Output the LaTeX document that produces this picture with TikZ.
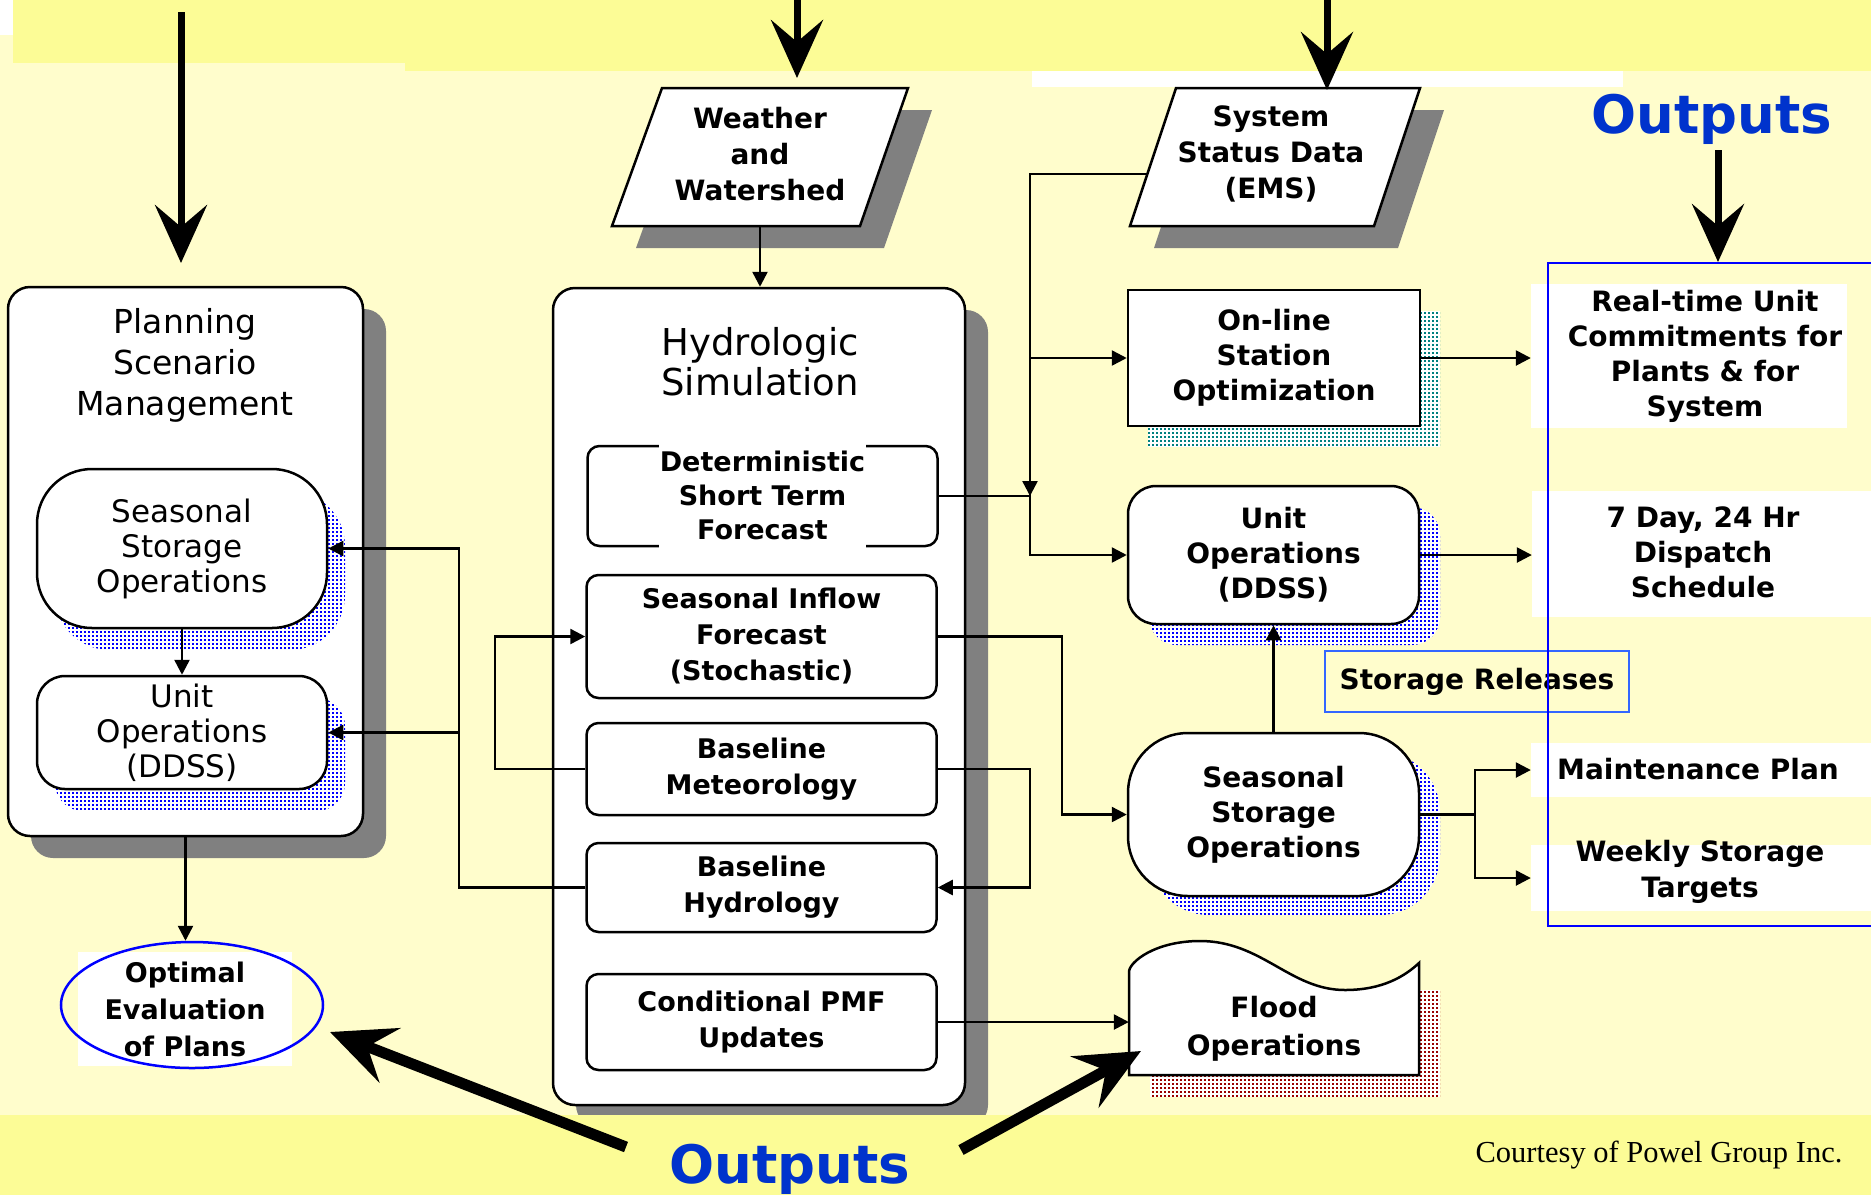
\documentclass[tikz,border=0pt]{standalone}
\usepackage{fontspec}
\setmainfont{DejaVu Sans}
\newfontfamily\courtesyfont{Liberation Serif}
\usetikzlibrary{arrows.meta,shapes.geometric,shadows,patterns}
\pgfdeclarepatternformonly{sdots}{\pgfqpoint{0pt}{0pt}}{\pgfqpoint{3.5pt}{3.5pt}}{\pgfqpoint{3.5pt}{3.5pt}}{\pgfpathrectangle{\pgfqpoint{0pt}{0pt}}{\pgfqpoint{2.2pt}{2.2pt}}\pgfusepath{fill}}
\definecolor{bgyellow}{RGB}{255,253,204}
\definecolor{bandyellow}{RGB}{252,252,150}
\definecolor{shgray}{RGB}{128,128,128}
\definecolor{outblue}{RGB}{0,51,204}
\definecolor{rblue}{RGB}{0,0,255}
\definecolor{lblue}{RGB}{51,102,255}
\definecolor{dotteal}{RGB}{0,128,128}
\definecolor{dotred}{RGB}{153,0,0}
\begin{document}
\begin{tikzpicture}[x=1pt,y=-1pt,
  line/.style={line width=2.5pt},
  conn/.style={line width=2.5pt,-{Triangle[length=15pt,width=15pt]}},
  big/.style={line width=7pt,-{Stealth[length=58pt,width=52pt,inset=22pt]}},
  bigger/.style={line width=11pt,-{Stealth[length=64pt,width=58pt,inset=24pt]}},
  gsh/.style={general shadow={shadow xshift=23pt,shadow yshift=-22pt,fill=shgray}},
  dsh/.style n args={3}{general shadow={shadow xshift=#2,shadow yshift=#3,fill=white},
     general shadow={shadow xshift=#2,shadow yshift=#3,pattern=sdots,pattern color=#1}},
  cont/.style={draw,line width=2.5pt,fill=white,rounded corners=22pt,gsh},
  ttl/.style={font=\fontsize{33}{41}\selectfont,align=center,inner sep=0pt},
  htl/.style={font=\fontsize{37}{40}\selectfont,align=center,inner sep=0pt},
  lbox/.style={draw,line width=2.5pt,fill=white,align=center,inner sep=0pt,
     font=\fontsize{31}{35}\selectfont,minimum width=290pt},
  ibox/.style={draw,line width=2.5pt,fill=white,rounded corners=12pt,minimum width=350pt,
     align=center,inner sep=0pt,font=\fontsize{27}{36}\selectfont\bfseries},
  rbox/.style={draw,line width=2.5pt,fill=white,align=center,inner sep=0pt,
     font=\fontsize{28}{35}\selectfont\bfseries,minimum width=291pt},
  ptxt/.style={align=center,inner sep=0pt,font=\fontsize{28}{36}\selectfont\bfseries},
  opatch/.style={fill=white,inner sep=0pt},
  otext/.style={align=center,inner sep=0pt,font=\fontsize{28}{35}\selectfont\bfseries},
  otitle/.style={font=\fontsize{53}{60}\selectfont\bfseries,text=outblue,inner sep=0pt}
]
\useasboundingbox (0,0) rectangle (1871,1195);
\clip (0,0) rectangle (1871,1195);
% background
\fill[bgyellow] (0,0) rectangle (1871,1195);
\fill[white] (0,0) rectangle (13,35);
\fill[bandyellow] (13,0) rectangle (1871,63);
\fill[bandyellow] (405,63) rectangle (1871,71);
\fill[white] (1032,71) rectangle (1623,87);

% containers
\node[cont,minimum width=355pt,minimum height=549pt] (plan) at (185.5,561.5) {};
\node[ttl] (plantitle) at (185,365) {Planning\\Scenario\\Management};
\node[cont,minimum width=412pt,minimum height=817pt] (hydro) at (759,696.5) {};
\node[htl] (hydrotitle) at (760,362) {Hydrologic\\Simulation};

% bottom band (over container shadow)
\fill[bandyellow] (0,1115) rectangle (1871,1195);

% left inner boxes
\node[lbox,rounded corners=55pt,minimum height=159pt,dsh={rblue}{18pt}{-22pt}] (lsso) at (182,548.5) {Seasonal\\Storage\\Operations};
\node[lbox,rounded corners=28pt,minimum height=113pt,dsh={rblue}{18pt}{-22pt}] (luo) at (182,732.5) {Unit\\Operations\\(DDSS)};

% hydrologic inner boxes
\node[ibox,minimum height=100pt] (det) at (762.5,496) {};
\node[align=center,fill=white,inner sep=1pt,minimum height=106pt,font=\fontsize{27}{34}\selectfont\bfseries] (dettxt) at (762.5,495) {Deterministic\\Short Term\\Forecast};
\node[ibox,minimum height=123pt] (sif) at (761.5,636.5) {Seasonal Inflow\\Forecast\\(Stochastic)};
\node[ibox,minimum height=92pt] (bmet) at (761.5,769) {Baseline\\Meteorology};
\node[ibox,minimum height=89pt] (bhyd) at (761.5,887.5) {Baseline\\Hydrology};
\node[ibox,minimum height=96pt] (cpmf) at (761.5,1022) {Conditional PMF\\Updates};

% input parallelograms
\fill[shgray] (686,110) -- (932,110) -- (884,248) -- (636,248) -- cycle;
\draw[line,fill=white] (662,88) -- (908,88) -- (860,226) -- (612,226) -- cycle;
\node[ptxt,minimum width=200pt,minimum height=144pt] (weather) at (760,154) {Weather\\and\\Watershed};
\fill[shgray] (1200,110) -- (1444,110) -- (1398,248) -- (1154,248) -- cycle;
\draw[line,fill=white] (1176,88) -- (1420,88) -- (1374,226) -- (1130,226) -- cycle;
\node[ptxt,minimum width=200pt,minimum height=144pt] (ems) at (1271,154) {System\\Status Data\\(EMS)};

% right boxes
\node[rbox,minimum width=292pt,minimum height=136pt,dsh={dotteal}{20pt}{-21pt}] (online) at (1274,358) {On-line\\Station\\Optimization};
\node[rbox,rounded corners=28pt,minimum height=138pt,dsh={rblue}{21pt}{-21pt}] (ruo) at (1273.5,555) {Unit\\Operations\\(DDSS)};
\node[rbox,rounded corners=60pt,minimum height=163pt,dsh={rblue}{21pt}{-19pt}] (rsso) at (1273.5,814.5) {Seasonal\\Storage\\Operations};

% flood operations
\fill[white] (1150,990) rectangle (1440,1097);
\fill[pattern=sdots,pattern color=dotred] (1150,990) rectangle (1440,1097);
\draw[line,fill=white] (1129,1075) -- (1129,972) .. controls (1129,962) and (1155,941) .. (1200,941) .. controls (1262,941) and (1290,990) .. (1345,990) .. controls (1383,990) and (1405,976) .. (1419,963) -- (1419,1075) -- cycle;
\node[otext,minimum width=290pt,minimum height=90pt,font=\fontsize{28}{38}\selectfont\bfseries] (flood) at (1274,1029) {Flood\\Operations};

% optimal evaluation
\node[opatch,minimum width=214pt,minimum height=114pt,align=center,font=\fontsize{27}{37}\selectfont\bfseries] (optpatch) at (185,1009) {Optimal\\Evaluation\\of Plans};
\node[ellipse,draw=rblue,line width=2.5pt,minimum width=262pt,minimum height=126pt] (optimal) at (192,1005) {};

% outputs column
\node[opatch,minimum width=316pt,minimum height=144pt] (rt) at (1689,356) {};
\node[otext] (rttxt) at (1705,356) {Real-time Unit\\Commitments for\\Plants \& for\\System};
\node[opatch,minimum width=339pt,minimum height=126pt] (day7) at (1701.5,554) {};
\node[otext] (day7txt) at (1703,552) {7 Day, 24 Hr\\Dispatch\\Schedule};
\node[opatch,minimum width=340pt,minimum height=54pt] (maint) at (1701,770) {};
\node[otext] (mainttxt) at (1698,769) {Maintenance Plan};
\node[opatch,minimum width=340pt,minimum height=66pt] (weekly) at (1701,878) {};
\node[otext,font=\fontsize{28}{36}\selectfont\bfseries] (weeklytxt) at (1700,872) {Weekly Storage\\Targets};
\node[draw=lblue,line width=2.5pt,minimum width=304pt,minimum height=61pt,inner sep=0pt,font=\fontsize{28}{35}\selectfont\bfseries] (strel) at (1477,681.5) {Storage Releases};
\draw[rblue,line width=2.5pt] (1548,263) rectangle (1890,926);

% titles
\node[otitle,anchor=base] (outtop) at (1712,133) {Outputs};
\node[otitle,anchor=base] (outbot) at (790,1183) {Outputs};
\node[font=\courtesyfont\fontsize{30.5}{32}\selectfont,inner sep=0pt] (courtesy) at (1659,1155) {Courtesy of Powel Group Inc.};

% big arrows
\coordinate (a1s) at (181,12);   \coordinate (a1e) at (181,263);
\coordinate (a2s) at (797,-5);   \coordinate (a2e) at (797,78);
\coordinate (a3s) at (1327,-5);  \coordinate (a3e) at (1327,90);
\coordinate (a4s) at (1718,150); \coordinate (a4e) at (1718,262);
\draw[big] (a1s) -- (a1e);
\draw[big] (a2s) -- (a2e);
\draw[big] (a3s) -- (a3e);
\draw[big] (a4s) -- (a4e);
\coordinate (bls) at (626,1147); \coordinate (ble) at (330,1032);
\coordinate (brs) at (961,1150); \coordinate (bre) at (1141,1051);
\draw[bigger] (bls) -- (ble);
\draw[bigger] (brs) -- (bre);

% connectors
\coordinate (emsL) at (1147,174);
\coordinate (bus) at (1030,174);
\coordinate (detja) at (1030,468);
\coordinate (detj) at (1030,496);
\coordinate (k2) at (1062,636);
\coordinate (k3) at (495,700);
\coordinate (k4) at (459,700);
\coordinate (k5) at (1475,800);
\draw[conn] (weather.south) -- (weather.south |- hydro.north);
\draw[conn] (emsL) -- (bus) |- (ruo.west);
\draw[conn] (bus |- online.west) -- (online.west);
\draw[line] (det.east) -- (det.east -| bus);
\draw[conn] (detja) -- (detj);
\draw[conn] (sif.east) -- (sif.east -| k2) |- (rsso.west);
\draw[conn] (bmet.east) -- (bmet.east -| bus) |- (bhyd.east);
\draw[conn] (bmet.west) -- (bmet.west -| k3) |- (sif.west);
\draw[conn] (bhyd.west) -- (bhyd.west -| k4) |- (lsso.east);
\draw[conn] (k4 |- luo.east) -- (luo.east);
\draw[conn] (lsso.south) -- (luo.north);
\draw[conn] (plan.south) -- (plan.south |- optimal.north);
\draw[conn] (online.east) -- (online.east -| rt.west);
\draw[conn] (ruo.east) -- (ruo.east -| day7.west);
\draw[line] (rsso.east) -- (rsso.east -| k5);
\draw[conn] (rsso.east -| k5) |- (maint.west);
\draw[conn] (rsso.east -| k5) |- (weekly.west);
\draw[conn] (rsso.north) -- (ruo.south);
\draw[conn] (cpmf.east) -- (cpmf.east -| flood.west);
\end{tikzpicture}
\end{document}
